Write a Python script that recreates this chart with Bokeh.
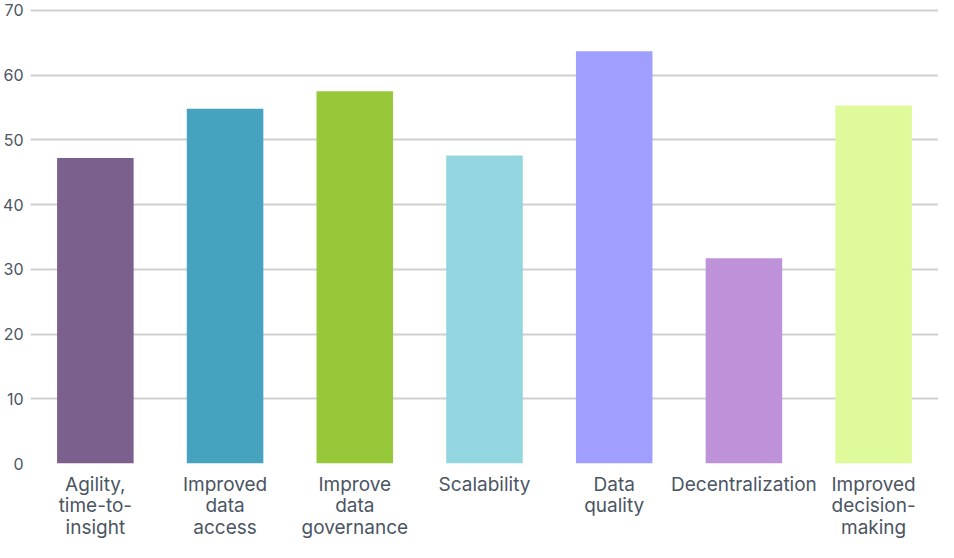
from bokeh.plotting import figure
from bokeh.models import ColumnDataSource, FixedTicker
from bokeh.embed import file_html
from bokeh.resources import INLINE

categories = ["Agility,\ntime-to-\ninsight", "Improved\ndata\naccess", "Improve\ndata\ngovernance",
              "Scalability", "Data\nquality", "Decentralization", "Improved\ndecision-\nmaking"]
values = [47.2, 54.8, 57.5, 47.6, 63.7, 31.7, 55.3]
colors = ["#7B5F8C", "#45A3C0", "#97C83A", "#93D6E0", "#A09EFE", "#BD92D9", "#DFFA9A"]
y_ticks = [0, 10, 20, 30, 40, 50, 60, 70]

src = ColumnDataSource(dict(cat=categories, val=values, color=colors))

p = figure(x_range=categories, y_range=(0, 70.3), width=938, height=542,
           output_backend="svg", toolbar_location=None,
           min_border_left=0, min_border_right=0, min_border_top=8, min_border_bottom=0)
p.outline_line_color = None
p.vbar(x="cat", top="val", width=0.59, color="color", source=src, line_color=None)

p.xgrid.grid_line_color = None
p.ygrid.grid_line_color = "#cfcfd3"
p.ygrid.grid_line_width = 2
p.yaxis.ticker = FixedTicker(ticks=y_ticks)
for ax in (p.xaxis[0], p.yaxis[0]):
    ax.axis_line_color = None
    ax.major_tick_line_color = None
    ax.minor_tick_line_color = None
    ax.major_tick_out = 0
    ax.major_tick_in = 0
    ax.major_label_text_font = "Inter"
    ax.major_label_text_color = "#4b5563"
p.yaxis.major_label_text_font_size = "16px"
p.yaxis.major_label_standoff = 7
p.xaxis.major_label_text_font_size = "19px"
p.xaxis.major_label_standoff = 9
p.xaxis.major_label_text_line_height = 0.95

open("out.html", "w").write(file_html(p, INLINE))
